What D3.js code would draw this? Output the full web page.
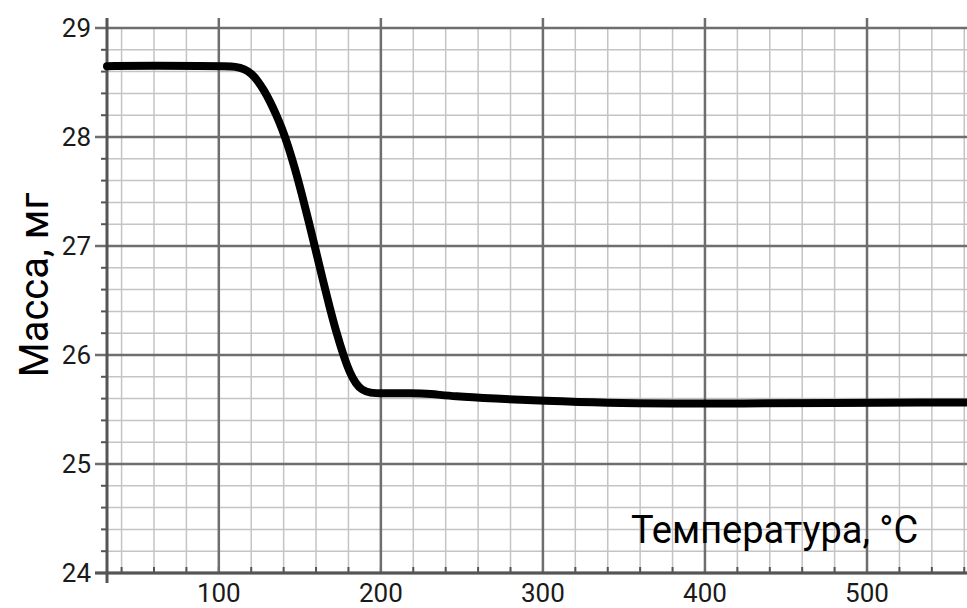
<!DOCTYPE html>
<html>
<head>
<meta charset="utf-8">
<script src="https://cdn.jsdelivr.net/npm/d3@7"></script>
<style>
  html, body { margin: 0; padding: 0; background: #fff; }
  svg { display: block; font-family: Roboto, "Noto Sans", sans-serif; }
</style>
</head>
<body>
<svg id="chart" width="967" height="608"></svg>
<script>
// Temperature (°C) and mass (mg)
const temps = [31, 60, 90, 105, 110, 116, 120.4, 124.1, 127.8, 131.5, 135.2, 138.9, 142.6, 146.9, 151.2, 155.6, 159.9, 164.2, 168.5, 172.8, 177.2, 180.9, 184.6, 188.3, 193.2, 200.6, 220, 230, 245, 270, 300, 340, 380, 420, 480, 540, 562];
const mass = [28.65, 28.655, 28.65, 28.648, 28.647, 28.624, 28.578, 28.514, 28.431, 28.33, 28.211, 28.083, 27.927, 27.716, 27.477, 27.22, 26.954, 26.688, 26.431, 26.193, 25.982, 25.835, 25.734, 25.679, 25.651, 25.647, 25.65, 25.645, 25.62, 25.6, 25.58, 25.56, 25.555, 25.555, 25.56, 25.565, 25.565];

const xMajor = [100, 200, 300, 400, 500];
const yMajor = [24, 25, 26, 27, 28, 29];
const xMinor = d3.range(40, 561, 20);
const yMinor = d3.range(24, 29.001, 0.2).map(v => +v.toFixed(1));

const xTitle = "Температура, °C";
const yTitle = "Масса, мг";

const svg = d3.select("#chart");
const x = d3.scaleLinear().domain([31, 561.7]).range([107, 967]);
const y = d3.scaleLinear().domain([24, 29]).range([573, 28]);

const plotTop = y(29), plotBottom = y(24), plotLeft = x(31), plotRight = 967;

// minor grid
svg.append("g").selectAll("line").data(xMinor).join("line")
  .attr("x1", d => x(d)).attr("x2", d => x(d))
  .attr("y1", plotTop).attr("y2", plotBottom)
  .attr("stroke", "#c4c4c4").attr("stroke-width", 1.5);
svg.append("g").selectAll("line").data(yMinor).join("line")
  .attr("x1", plotLeft).attr("x2", plotRight)
  .attr("y1", d => y(d)).attr("y2", d => y(d))
  .attr("stroke", "#c4c4c4").attr("stroke-width", 1.5);

// minor ticks
svg.append("g").selectAll("line").data(yMinor).join("line")
  .attr("x1", plotLeft - 6).attr("x2", plotLeft)
  .attr("y1", d => y(d)).attr("y2", d => y(d))
  .attr("stroke", "#555").attr("stroke-width", 2);
svg.append("g").selectAll("line").data(xMinor).join("line")
  .attr("x1", d => x(d)).attr("x2", d => x(d))
  .attr("y1", plotBottom - 6).attr("y2", plotBottom)
  .attr("stroke", "#555").attr("stroke-width", 2);

// major grid
svg.append("g").selectAll("line").data(xMajor).join("line")
  .attr("x1", d => x(d)).attr("x2", d => x(d))
  .attr("y1", plotTop - 10).attr("y2", plotBottom)
  .attr("stroke", "#6e6e6e").attr("stroke-width", 2.5);
svg.append("g").selectAll("line").data(yMajor).join("line")
  .attr("x1", plotLeft - 12).attr("x2", plotRight)
  .attr("y1", d => y(d)).attr("y2", d => y(d))
  .attr("stroke", "#6e6e6e").attr("stroke-width", 2.5);

// axes lines
svg.append("line").attr("x1", plotLeft).attr("x2", plotLeft)
  .attr("y1", plotTop - 10).attr("y2", plotBottom + 10)
  .attr("stroke", "#555").attr("stroke-width", 3);
svg.append("line").attr("x1", plotLeft - 12).attr("x2", plotRight)
  .attr("y1", plotBottom).attr("y2", plotBottom)
  .attr("stroke", "#555").attr("stroke-width", 3);

// tick labels
svg.append("g").selectAll("text").data(yMajor).join("text")
  .attr("x", 91).attr("y", d => y(d) + 9)
  .attr("text-anchor", "end").attr("font-size", 26).attr("fill", "#1a1a1a")
  .text(d => d);
svg.append("g").selectAll("text").data(xMajor).join("text")
  .attr("x", d => x(d)).attr("y", 602)
  .attr("text-anchor", "middle").attr("font-size", 26).attr("fill", "#1a1a1a")
  .text(d => d);

// curve
const line = d3.line()
  .x((d, i) => x(temps[i]))
  .y(d => y(d))
  .curve(d3.curveBasis);
svg.append("path").datum(mass)
  .attr("d", line)
  .attr("fill", "none").attr("stroke", "#000")
  .attr("stroke-width", 8).attr("stroke-linejoin", "round").attr("stroke-linecap", "round");

// titles
svg.append("text").attr("x", 631).attr("y", 543)
  .attr("font-size", 38).attr("fill", "#000").text(xTitle);
svg.append("text").attr("transform", "translate(48,285) rotate(-90)")
  .attr("text-anchor", "middle").attr("font-size", 40).attr("fill", "#000").text(yTitle);
</script>
</body>
</html>
